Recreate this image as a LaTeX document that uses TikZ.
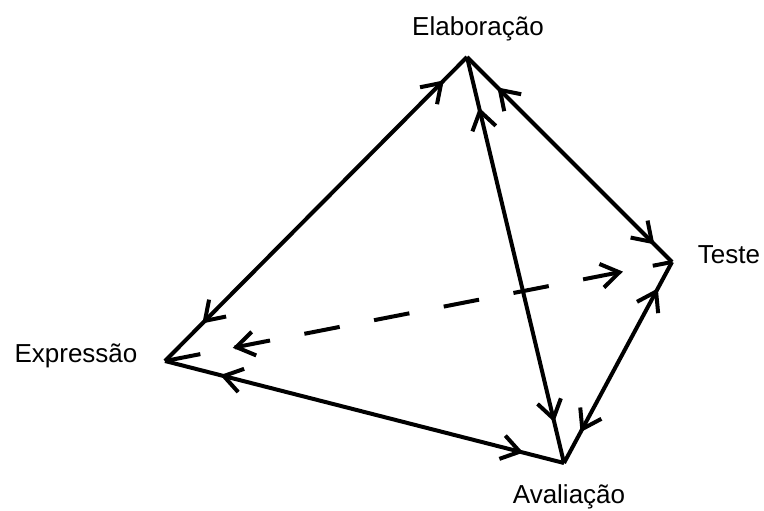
\documentclass[tikz,border=0pt]{standalone}
\usepackage{fontspec}
\setmainfont{Liberation Sans}
\usetikzlibrary{arrows.meta,decorations.markings}
\tikzset{
link/.style 2 args={line width=2pt,postaction={decorate},decoration={markings,
 mark=at position #1 with {\arrowreversed{Straight Barb[length=9pt,width=12pt]}},
 mark=at position -#2 with {\arrow{Straight Barb[length=9pt,width=12pt]}}}},
lbl/.style={anchor=base,font=\fontsize{13}{15}\selectfont}
}
\begin{document}
\begin{tikzpicture}[x=0.5pt,y=-0.5pt]
\useasboundingbox (0,0) rectangle (764,510);
\coordinate (el) at (467,57);\coordinate (te) at (672,262);
\coordinate (ex) at (165,361);\coordinate (av) at (564,463);
\node[lbl] (lel) at (478,35) {Elaboração};\node[lbl] (lte) at (729,263) {Teste};
\node[lbl] (lex) at (76,362) {Expressão};\node[lbl] (lav) at (569,503) {Avaliação};
\foreach \a/\b/\p/\q in {el/ex/16.5pt/26.5pt,el/te/21.5pt/12.5pt,el/av/26pt/21pt,te/av/15pt/17.5pt,ex/av/28.5pt/21pt} {
\draw[link={\p}{\q}] (\a)--(\b);}
\draw[link={34.5pt}{25pt},dash pattern=on 18pt off 17.5pt] (ex)--(te);
\end{tikzpicture}
\end{document}
